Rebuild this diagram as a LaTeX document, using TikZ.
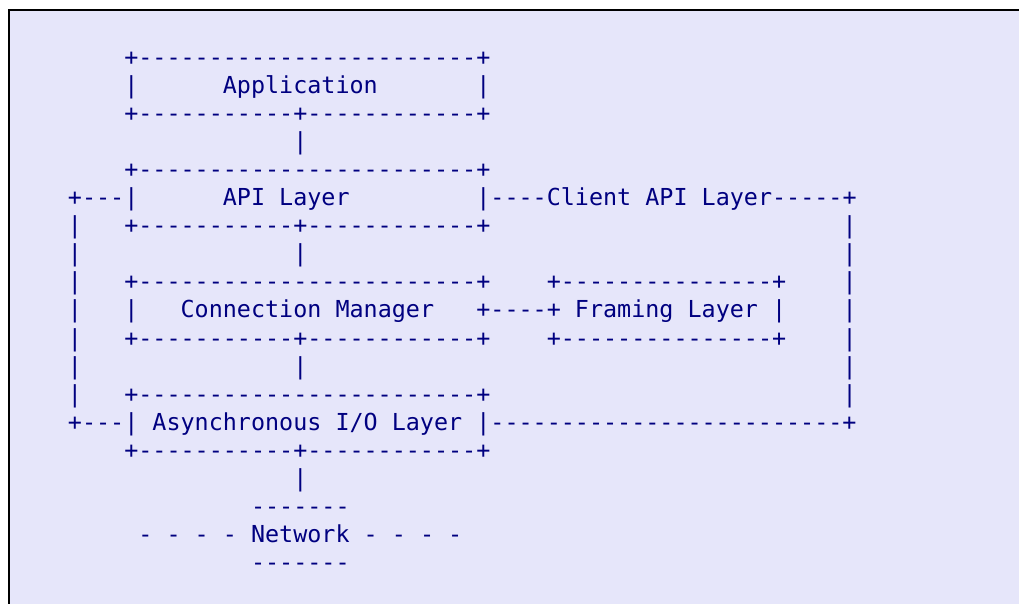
\documentclass[tikz,border=0pt]{standalone}
\usepackage{fontspec}
\setmonofont{DejaVu Sans Mono}
\definecolor{paper}{HTML}{E6E6FA}
\definecolor{ink}{HTML}{000080}
% one character cell of the monospaced grid
\newcommand\colw{14.083}
\newcommand\rowh{28.06}
\tikzset{
  asciirow/.style={anchor=base west, inner sep=0pt, outer sep=0pt, text=ink,
    font=\ttfamily\fontsize{23.39pt}{28.06pt}\selectfont},
  frameline/.style={draw=black, line width=1.8pt}
}
% \artpiece{name}{row}{column}{text}
\newcommand\artpiece[4]{\node[asciirow] (#1) at ({67.96+\colw*#3},{65.4+\rowh*#2}) {#4};}
\begin{document}
\begin{tikzpicture}[x=1pt,y=-1pt]
\useasboundingbox (0,0) rectangle (1019,604);
\fill[white] (0,0) rectangle (1019,604);
\fill[paper] (8.7,10.2) rectangle (1030,610);
\draw[frameline] (8.7,615) -- (8.7,10.2) -- (1030,10.2);

% Application
\artpiece{appTop}{0}{4}{+------------------------+}
\artpiece{appL}{1}{4}{|}
\artpiece{app}{1}{11}{Application}
\artpiece{appR}{1}{29}{|}
\artpiece{appBot}{2}{4}{+-----------+------------+}
\artpiece{linkA}{3}{16}{|}

% API layer and client API bracket
\artpiece{apiTop}{4}{4}{+------------------------+}
\artpiece{apiL}{5}{0}{+---|}
\artpiece{api}{5}{11}{API Layer}
\artpiece{apiR}{5}{29}{|----}
\artpiece{client}{5}{34}{Client API Layer}
\artpiece{clientEnd}{5}{50}{-----+}
\artpiece{apiBot}{6}{4}{+-----------+------------+}
\artpiece{brL6}{6}{0}{|}
\artpiece{brR6}{6}{55}{|}
\artpiece{brL7}{7}{0}{|}
\artpiece{linkB}{7}{16}{|}
\artpiece{brR7}{7}{55}{|}

% Connection manager and framing layer
\artpiece{brL8}{8}{0}{|}
\artpiece{connTop}{8}{4}{+------------------------+}
\artpiece{frameTop}{8}{34}{+---------------+}
\artpiece{brR8}{8}{55}{|}
\artpiece{brL9}{9}{0}{|}
\artpiece{connL}{9}{4}{|}
\artpiece{conn}{9}{8}{Connection Manager}
\artpiece{connLink}{9}{29}{+----+}
\artpiece{framing}{9}{36}{Framing Layer}
\artpiece{frameR}{9}{50}{|}
\artpiece{brR9}{9}{55}{|}
\artpiece{brL10}{10}{0}{|}
\artpiece{connBot}{10}{4}{+-----------+------------+}
\artpiece{frameBot}{10}{34}{+---------------+}
\artpiece{brR10}{10}{55}{|}
\artpiece{brL11}{11}{0}{|}
\artpiece{linkC}{11}{16}{|}
\artpiece{brR11}{11}{55}{|}

% Asynchronous I/O layer
\artpiece{brL12}{12}{0}{|}
\artpiece{aioTop}{12}{4}{+------------------------+}
\artpiece{brR12}{12}{55}{|}
\artpiece{aioL}{13}{0}{+---|}
\artpiece{aio}{13}{6}{Asynchronous I/O Layer}
\artpiece{aioR}{13}{29}{|-------------------------+}
\artpiece{aioBot}{14}{4}{+-----------+------------+}
\artpiece{linkD}{15}{16}{|}

% Network
\artpiece{netTop}{16}{13}{-------}
\artpiece{netDashL}{17}{5}{- - - -}
\artpiece{net}{17}{13}{Network}
\artpiece{netDashR}{17}{21}{- - - -}
\artpiece{netBot}{18}{13}{-------}
\end{tikzpicture}
\end{document}
